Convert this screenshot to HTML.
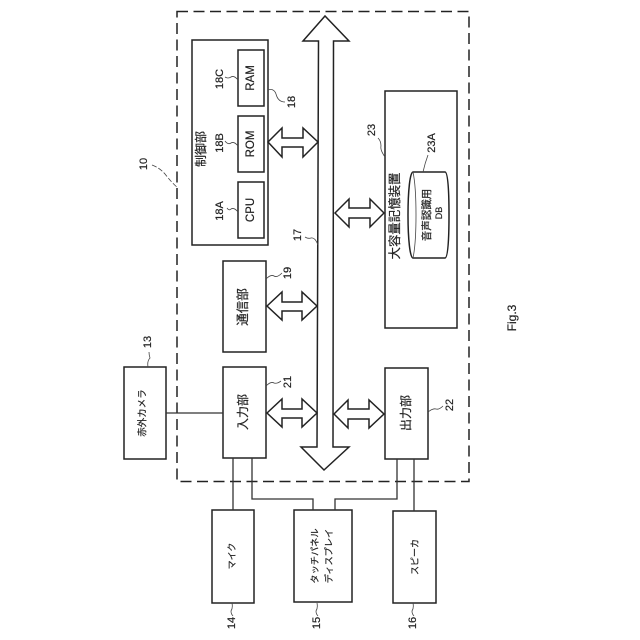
<!DOCTYPE html>
<html><head><meta charset="utf-8"><style>
html,body{margin:0;padding:0;background:#fff}
svg{display:block}
text{font-family:"Liberation Sans","Noto Sans CJK JP",sans-serif;fill:#222;stroke:#222;stroke-width:.2}
.b{fill:#fff;stroke:#222;stroke-width:1.5}
.l{fill:none;stroke:#333;stroke-width:1.3}
.t{fill:none;stroke:#444;stroke-width:.8}
</style></head><body>
<svg width="640" height="640" viewBox="0 0 640 640" xmlns="http://www.w3.org/2000/svg">
<rect x="177" y="11.500" width="292" height="470" fill="none" stroke="#222" stroke-width="1.5" stroke-dasharray="11 5.500"/>
<path class="b" d="M318.500 41L303 41L325 16L349 41L333.500 41L333 447L349 447L324 470L301 447L317 447Z"/>
<rect class="b" x="192" y="40" width="76" height="205"/>
<rect class="b" x="238" y="182" width="26" height="56"/>
<rect class="b" x="238" y="116" width="26" height="56"/>
<rect class="b" x="238" y="50" width="26" height="56"/>
<rect class="b" x="385" y="91" width="72" height="237"/>
<rect class="b" x="223" y="261" width="43" height="91"/>
<rect class="b" x="223" y="367" width="43" height="91"/>
<rect class="b" x="124" y="367" width="42" height="92"/>
<rect class="b" x="385" y="368" width="43" height="91"/>
<rect class="b" x="212" y="510" width="42" height="93"/>
<rect class="b" x="294" y="510" width="58" height="92"/>
<rect class="b" x="393" y="511" width="43" height="92"/>
<path class="l" d="M166 413H223M233 458V510M252 458V499H313V510M397 459V499H335V510M414 459V511"/>
<path class="b" d="M268 142L282 128V138H303V128L318 142L303 157V147H282V157Z"/>
<path class="b" d="M267 306L282 292V302H302V292L317 306L302 320V311H282V320Z"/>
<path class="b" d="M267 413L282 399V409H302V399L317 413L302 427V418H282V427Z"/>
<path class="b" d="M334 414L348 400V409H369V400L384 414L369 428V419H348V428Z"/>
<path class="b" d="M335 213L349 199V208H370V199L384 213L370 227V218H349V227Z"/>
<path class="b" d="M413 172H445C448 172 449 191 449 215C449 239 448 258 445 258H413C410 258 408 239 408 215C408 191 410 172 413 172Z"/>
<path class="t" d="M413 172C417 191 417 239 413 258"/>
<path class="t" d="M152 165Q160 168 165 174Q172 183 178 188" stroke-dasharray="5 2"/>
<path class="t" d="M318 245Q315 237 311 238Q308 239 305 237M238 212Q234 207 231 209Q229 211 227 208M238 146Q234 141 231 143Q228 145 225 141M238 80Q234 75 231 77Q228 79 225 77M268 90Q274 88 276 94Q278 102 285 102M385 157Q380 150 381 146Q381 141 378 138M423 172Q425 163 428 155M266 279Q271 274 274 276Q277 278 282 273M266 386Q271 381 274 383Q277 384 281 381M428 412Q433 408 436 409Q439 410 443 406M148 367Q147 361 150 358Q149 355 149 352M232 603Q233 608 231 611Q231 614 233 616M317 603Q318 608 316 611Q316 614 318 616M413 603Q414 608 412 611Q412 614 414 616"/>
<g text-anchor="middle" dominant-baseline="central">
<text transform="translate(251 210) rotate(-90)" font-size="11.500">CPU</text>
<text transform="translate(251 144) rotate(-90)" font-size="11.500">ROM</text>
<text transform="translate(251 78) rotate(-90)" font-size="11.500">RAM</text>
<text transform="translate(201 149) rotate(-90)" font-size="12">制御部</text>
<text transform="translate(220 211) rotate(-90)" font-size="11">18A</text>
<text transform="translate(220 143) rotate(-90)" font-size="11">18B</text>
<text transform="translate(220 79) rotate(-90)" font-size="11">18C</text>
<text transform="translate(292 102) rotate(-90)" font-size="11">18</text>
<text transform="translate(298 235) rotate(-90)" font-size="11">17</text>
<text transform="translate(144 164) rotate(-90)" font-size="11">10</text>
<text transform="translate(372 130) rotate(-90)" font-size="11">23</text>
<text transform="translate(432 143) rotate(-90)" font-size="11">23A</text>
<text transform="translate(395 216) rotate(-90)" font-size="12.400">大容量記憶装置</text>
<text transform="translate(427 215) rotate(-90)" font-size="10.500">音声認識用</text>
<text transform="translate(439 213) rotate(-90)" font-size="9">DB</text>
<text transform="translate(243 307) rotate(-90)" font-size="12.500">通信部</text>
<text transform="translate(243 412) rotate(-90)" font-size="12">入力部</text>
<text transform="translate(406 413) rotate(-90)" font-size="12">出力部</text>
<text transform="translate(143 413) rotate(-90)" font-size="9.500">赤外カメラ</text>
<text transform="translate(288 273) rotate(-90)" font-size="11">19</text>
<text transform="translate(288 382) rotate(-90)" font-size="11">21</text>
<text transform="translate(450 405) rotate(-90)" font-size="11">22</text>
<text transform="translate(148 342) rotate(-90)" font-size="11">13</text>
<text transform="translate(232 556) rotate(-90)" font-size="9">マイク</text>
<text transform="translate(315 556) rotate(-90)" font-size="9.200">タッチパネル</text>
<text transform="translate(329 556) rotate(-90)" font-size="9.200">ディスプレイ</text>
<text transform="translate(415 557) rotate(-90)" font-size="9">スピーカ</text>
<text transform="translate(232 623) rotate(-90)" font-size="11">14</text>
<text transform="translate(317 623) rotate(-90)" font-size="11">15</text>
<text transform="translate(413 623) rotate(-90)" font-size="11">16</text>
<text transform="translate(512 318) rotate(-90)" font-size="12">Fig.3</text>
</g>
</svg>
</body></html>
